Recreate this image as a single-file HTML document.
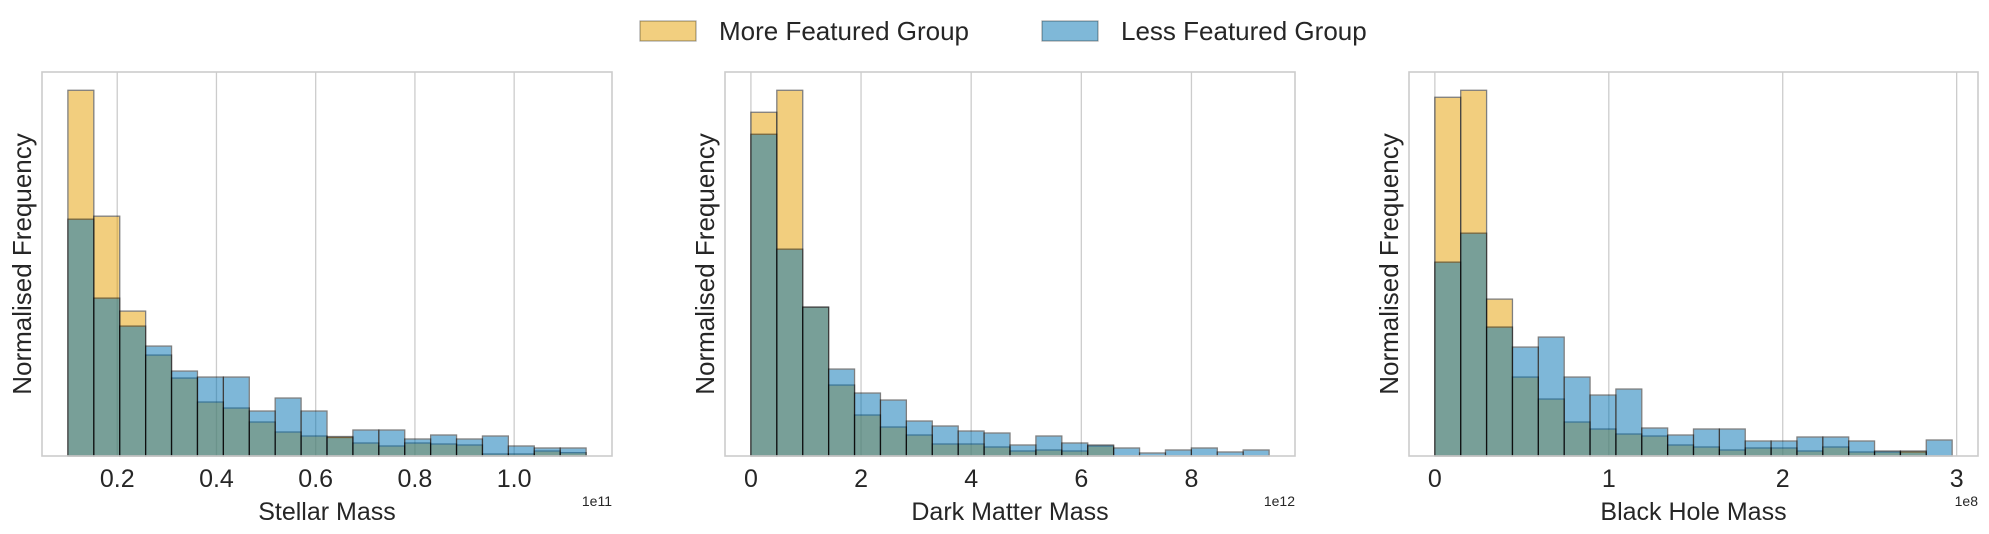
<!DOCTYPE html>
<html><head><meta charset="utf-8"><style>
html,body{margin:0;padding:0;background:#fff;}
svg{display:block;font-family:"Liberation Sans",Arial,sans-serif;}
</style></head><body>
<svg id="fig" width="1989" height="534" viewBox="0 0 1989 534">
  <g>
    <g>
      <rect x="640" y="21" width="56" height="20" fill="#E69F00" fill-opacity="0.5" stroke="#000" stroke-opacity="0.35" stroke-width="1.2"/>
      <text x="719" y="40" font-size="26" fill="#262626">More Featured Group</text>
    </g>
    <g>
      <rect x="1042" y="21" width="56" height="20" fill="#0072B2" fill-opacity="0.5" stroke="#000" stroke-opacity="0.35" stroke-width="1.2"/>
      <text x="1121" y="40" font-size="26" fill="#262626">Less Featured Group</text>
    </g>
  </g>
</svg>
<script>
// ---- Panel 1: Stellar Mass (units of 1e11) ----
const stellarRange = [0.1006, 1.145];
const stellarTicks = [0.2, 0.4, 0.6, 0.8, 1.0];
const stellarTickLabels = ["0.2", "0.4", "0.6", "0.8", "1.0"];
const stellarMore = [366, 240, 145, 101, 78, 54, 48, 34, 24, 20, 19.5, 13, 10, 13, 12, 11, 2, 2, 5, 3.3];
const stellarLess = [237, 158, 130, 110, 85, 79, 79, 45, 58, 45, 18.5, 26, 26, 17, 21, 17, 20, 10, 8, 8];

// ---- Panel 2: Dark Matter Mass (units of 1e12) ----
const darkRange = [0.0, 9.41];
const darkTicks = [0, 2, 4, 6, 8];
const darkTickLabels = ["0", "2", "4", "6", "8"];
const darkMore = [344, 366, 149, 71, 41, 29, 21, 12, 12, 9, 5, 6, 5, 10, 0, 0, 0, 0, 0, 0];
const darkLess = [322, 207, 149, 87, 63, 56, 35, 30, 25, 23, 11, 20, 13, 11, 8, 3, 6, 8, 4, 6];

// ---- Panel 3: Black Hole Mass (units of 1e8) ----
const bhRange = [0.0, 2.974];
const bhTicks = [0, 1, 2, 3];
const bhTickLabels = ["0", "1", "2", "3"];
const bhMore = [359, 366, 157, 79, 57, 34, 27, 22, 20, 11, 9, 6, 8, 8, 5, 9, 4, 4, 5, 0];
const bhLess = [194, 223, 129, 109, 119, 79, 61, 67, 28, 21, 27, 27, 15, 15, 19, 19, 15, 5, 4, 16];

const NS = "http://www.w3.org/2000/svg";
const svg = document.getElementById("fig");
function mk(tag, attrs, parent) {
  const e = document.createElementNS(NS, tag);
  for (const k in attrs) e.setAttribute(k, attrs[k]);
  parent.appendChild(e);
  return e;
}

function panel(key, left, right, range, ticks, tickLabels, more, less, xlabel, expo) {
  const top = 72, bottom = 456;
  const g = mk("g", {}, svg);
  
  
  const n = more.length;
  const span = range[1] - range[0];
  const xmin = range[0] - 0.05 * span, xmax = range[1] + 0.05 * span;
  const xs = v => left + (v - xmin) / (xmax - xmin) * (right - left);
  const ymax = 1.05 * Math.max(...more, ...less);
  const ys = v => bottom - v / ymax * (bottom - top);
  const bw = span / n;

  // grid
  ticks.forEach((t, i) => {
    const x = xs(t);
    const gl = mk("line", {x1: x, x2: x, y1: top, y2: bottom, stroke: "#cccccc", "stroke-width": 1.3}, g);
    
    
    const tl = mk("text", {x: x, y: 487, "font-size": 25, fill: "#262626", "text-anchor": "middle"}, g);
    
    
    tl.textContent = tickLabels[i];
  });

  function series(vals, color, name) {
    vals.forEach((v, i) => {
      if (v <= 0) return;
      const x0 = xs(range[0] + i * bw), x1 = xs(range[0] + (i + 1) * bw);
      const r = mk("rect", {x: x0, y: ys(v), width: x1 - x0, height: bottom - ys(v),
        fill: color, stroke: "#000", "stroke-width": 1.3, opacity: 0.5}, g);
      
      
    });
  }
  series(more, "#E69F00", "more-featured");
  series(less, "#0072B2", "less-featured");

  const frame = mk("rect", {x: left, y: top, width: right - left, height: bottom - top, fill: "none", stroke: "#cccccc", "stroke-width": 1.6}, g);
  
  

  const xl = mk("text", {x: (left + right) / 2, y: 520, "font-size": 25, fill: "#262626", "text-anchor": "middle"}, g);
  
  
  xl.textContent = xlabel;

  const ex = mk("text", {x: right, y: 506, "font-size": 14, fill: "#262626", "text-anchor": "end"}, g);
  
  
  ex.textContent = expo;

  const yl = mk("text", {x: 0, y: 0, "font-size": 26, fill: "#262626", "text-anchor": "middle",
    transform: "translate(" + (left - 11) + "," + ((top + bottom) / 2) + ") rotate(-90)"}, g);
  
  
  yl.textContent = "Normalised Frequency";
}

panel("stellar", 42, 612, stellarRange, stellarTicks, stellarTickLabels, stellarMore, stellarLess, "Stellar Mass", "1e11");
panel("dark-matter", 725, 1295, darkRange, darkTicks, darkTickLabels, darkMore, darkLess, "Dark Matter Mass", "1e12");
panel("black-hole", 1409, 1978, bhRange, bhTicks, bhTickLabels, bhMore, bhLess, "Black Hole Mass", "1e8");
</script>
</body></html>
